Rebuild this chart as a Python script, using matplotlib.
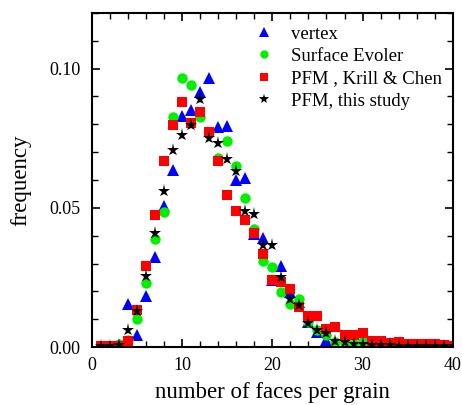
import matplotlib
matplotlib.use('Agg')
from matplotlib import pyplot as plt
from matplotlib.ticker import MultipleLocator

plt.rcParams['font.family'] = ['Liberation Serif', 'DejaVu Serif']

# number of faces per grain
n_vertex = list(range(1, 41))
f_vertex = [0.0, 0.0, 0.0005, 0.0153, 0.0042, 0.0184, 0.0322, 0.0505, 0.0637, 0.0829,
            0.0853, 0.0916, 0.0965, 0.0791, 0.0793, 0.0601, 0.0609, 0.0405, 0.0393, 0.024,
            0.0292, 0.0198, 0.0162, 0.009, 0.0054, 0.0024, 0.0008, 0.0005, 0.0004, 0.0005,
            0.0003, 0.0004, 0.0015, 0.0004, 0.0003, 0.0002, 0.0002, 0.0001, 0.0001, 0.0]

n_se = list(range(1, 41))
f_se = [0.0, 0.0003, 0.0012, 0.0025, 0.010, 0.0231, 0.0388, 0.0486, 0.0827, 0.0966,
        0.094, 0.0827, 0.0771, 0.068, 0.0741, 0.0651, 0.0537, 0.0424, 0.031, 0.0289,
        0.0198, 0.0155, 0.0172, 0.009, 0.0061, 0.0044, 0.002, 0.0015, 0.001, 0.0022,
        0.0005, 0.0004, 0.0003, 0.0003, 0.0002, 0.0002, 0.0001, 0.0001, 0.0001, 0.0]

n_kc = list(range(1, 41))
f_kc = [0.0003, 0.0003, 0.0004, 0.0022, 0.0132, 0.029, 0.0475, 0.0667, 0.0799, 0.0881,
        0.0806, 0.0844, 0.0771, 0.0667, 0.0547, 0.0489, 0.0455, 0.041, 0.0335, 0.024,
        0.0234, 0.0207, 0.0144, 0.0112, 0.0112, 0.0066, 0.0072, 0.0045, 0.0045, 0.0052,
        0.0022, 0.0022, 0.0013, 0.0018, 0.0012, 0.001, 0.001, 0.001, 0.0007, 0.0005]

n_pfm = list(range(1, 41))
f_pfm = [0.0003, 0.0005, 0.0007, 0.0063, 0.013, 0.0257, 0.0409, 0.0561, 0.0709, 0.076,
         0.0796, 0.0892, 0.0751, 0.0733, 0.0677, 0.0631, 0.0489, 0.0478, 0.0367, 0.0367,
         0.025, 0.0171, 0.015, 0.0088, 0.006, 0.005, 0.0022, 0.0018, 0.001, 0.001,
         0.0007, 0.0007, 0.0006, 0.0005, 0.0005, 0.0005, 0.0005, 0.0004, 0.0004, 0.0003]

fig = plt.figure(figsize=(4.62, 4.05), dpi=100)
ax = fig.add_axes([0.199, 0.143, 0.781, 0.825])

ax.plot(n_vertex, f_vertex, '^', color='#0000ff', ms=8.5, mew=0, label='vertex')
ax.plot(n_se, f_se, 'o', color='#00f000', ms=7.5, mew=0, label='Surface Evoler')
ax.plot(n_kc, f_kc, 's', color='#ff0000', ms=6.5, mew=0, label='PFM , Krill & Chen')
ax.plot(n_pfm, f_pfm, '*', color='black', ms=9.5, mew=0, label='PFM, this study')

ax.set_xlim(0, 40)
ax.set_ylim(0, 0.12)
ax.xaxis.set_major_locator(MultipleLocator(10))
ax.xaxis.set_minor_locator(MultipleLocator(2))
ax.yaxis.set_minor_locator(MultipleLocator(0.01))
ax.set_yticks([0, 0.05, 0.10])
ax.set_yticklabels(['0.00', '0.05', '0.10'])
ax.tick_params(which='both', direction='in', top=True, right=True, labelsize=13)
ax.tick_params(which='major', length=6, width=1.2)
ax.tick_params(which='minor', length=4, width=1)
ax.tick_params(axis='x', pad=7)
ax.tick_params(axis='y', pad=8)
for s in ax.spines.values():
    s.set_linewidth(1.5)

ax.set_xlabel('number of faces per grain', fontsize=16.5, labelpad=6)
ax.set_ylabel('frequency', fontsize=16.5, labelpad=13)

ax.legend(loc='upper right', bbox_to_anchor=(0.99, 0.985), frameon=False,
          fontsize=13.5, handletextpad=0.9, borderaxespad=0.0, labelspacing=0.28,
          handlelength=1.0, markerscale=0.8)

fig.savefig('out.png', dpi=100)
